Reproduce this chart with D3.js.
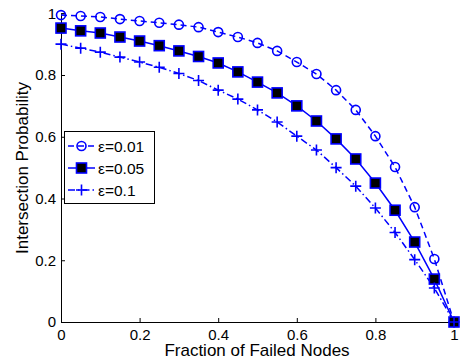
<!DOCTYPE html>
<html><head><meta charset="utf-8">
<script src="https://cdn.jsdelivr.net/npm/d3@7"></script>
<style>body{margin:0;background:#fff}svg{display:block}text{font-family:"Liberation Sans",Arial,sans-serif;}</style>
</head><body><svg id="c" width="465" height="363"></svg>
<script>
const xValues = [0,0.05,0.1,0.15,0.2,0.25,0.3,0.35,0.4,0.45,0.5,0.55,0.6,0.65,0.7,0.75,0.8,0.85,0.9,0.95,1];
const eps001 = [0.994,0.991,0.988,0.981,0.975,0.969,0.963,0.955,0.939,0.923,0.904,0.878,0.842,0.803,0.751,0.687,0.602,0.502,0.372,0.204,0];
const eps005 = [0.952,0.943,0.936,0.923,0.91,0.895,0.878,0.86,0.839,0.81,0.777,0.742,0.70,0.651,0.593,0.528,0.45,0.362,0.259,0.139,0];
const eps010 = [0.9,0.887,0.874,0.858,0.842,0.825,0.805,0.782,0.751,0.722,0.687,0.648,0.602,0.557,0.5,0.44,0.369,0.29,0.202,0.11,0];
const seriesNames = ["\u03b5=0.01","\u03b5=0.05","\u03b5=0.1"];
const xTicks = [0,0.2,0.4,0.6,0.8,1];
const yTicks = [0,0.2,0.4,0.6,0.8,1];
const xTitle = "Fraction of Failed Nodes";
const yTitle = "Intersection Probability";

const svg = d3.select("#c");
const x = d3.scaleLinear().domain([0,1]).range([61,454]);
const y = d3.scaleLinear().domain([0,1]).range([322,13.25]);
const blue = "#0000ff";

const series = [
  {name:seriesNames[0], vals:eps001, dash:"6,4", marker:"circle"},
  {name:seriesNames[1], vals:eps005, dash:null, marker:"square"},
  {name:seriesNames[2], vals:eps010, dash:"7,3,1.5,3", marker:"plus"}
];

const fmt = d => String(d);
const gx = svg.append("g").attr("transform","translate(0,322)")
  .call(d3.axisBottom(x).tickValues(xTicks).tickFormat(fmt).tickSize(-4).tickPadding(7));
const gy = svg.append("g").attr("transform","translate(61,0)")
  .call(d3.axisLeft(y).tickValues(yTicks).tickFormat(fmt).tickSize(-4).tickPadding(5));
[gx,gy].forEach(g=>{
  g.select(".domain").attr("stroke","#000").attr("stroke-width",1);
  g.selectAll(".tick line").attr("stroke","#000");
  g.selectAll(".tick text").attr("font-size","15px").attr("fill","#000")
   .attr("font-family","\"Liberation Sans\",Arial,sans-serif");
});

function drawMarker(g, type, cx, cy){
  if(type==="circle"){
    g.append("circle").attr("cx",cx).attr("cy",cy).attr("r",4.5)
     .attr("fill","none").attr("stroke",blue).attr("stroke-width",1.6);
  } else if(type==="square"){
    g.append("rect").attr("x",cx-5).attr("y",cy-5).attr("width",10).attr("height",10)
     .attr("fill","#000").attr("stroke",blue).attr("stroke-width",1.6);
  } else {
    g.append("path").attr("d",`M${cx-5.5},${cy}H${cx+5.5}M${cx},${cy-5.5}V${cy+5.5}`)
     .attr("stroke",blue).attr("stroke-width",1.6);
  }
}

const line = d3.line().x(d=>x(d[0])).y(d=>y(d[1]));
series.forEach(s=>{
  const pts = xValues.map((v,i)=>[v,s.vals[i]]);
  svg.append("path").attr("d",line(pts)).attr("fill","none").attr("stroke",blue)
    .attr("stroke-width",1.5).attr("stroke-dasharray",s.dash);
});
series.forEach(s=>{
  const g = svg.append("g");
  xValues.forEach((v,i)=>drawMarker(g,s.marker,x(v),y(s.vals[i])));
});

// legend
const lg = svg.append("g");
lg.append("rect").attr("x",64.5).attr("y",131.5).attr("width",90).attr("height",72)
  .attr("fill","#fff").attr("stroke","#000").attr("stroke-width",1);
series.forEach((s,i)=>{
  const ly = 146 + i*22;
  lg.append("line").attr("x1",68).attr("x2",95).attr("y1",ly).attr("y2",ly)
    .attr("stroke",blue).attr("stroke-width",1.5).attr("stroke-dasharray",s.dash);
  drawMarker(lg,s.marker,81.5,ly);
  lg.append("text").attr("x",98).attr("y",ly+5.5).attr("font-size","15.5px").attr("fill","#000").text(s.name);
});

// titles
svg.append("text").attr("x",257).attr("y",356).attr("text-anchor","middle")
  .attr("font-size","17px").text(xTitle);
svg.append("text").attr("transform","translate(28,168) rotate(-90)").attr("text-anchor","middle")
  .attr("font-size","17px").text(yTitle);
</script></body></html>
